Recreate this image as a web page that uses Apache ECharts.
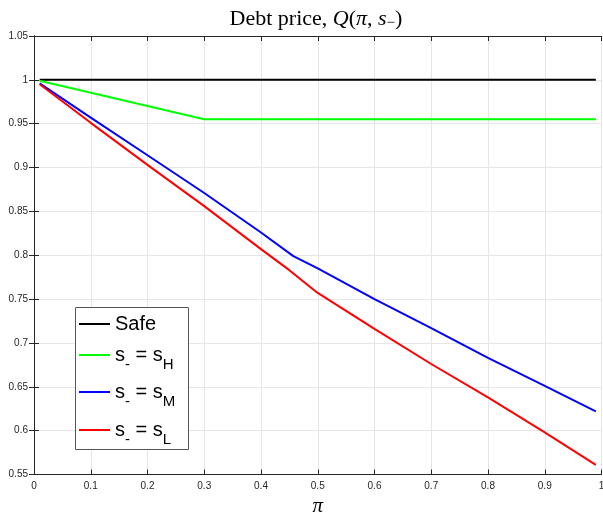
<!DOCTYPE html>
<html>
<head>
<meta charset="utf-8">
<script src="https://cdn.jsdelivr.net/npm/echarts@6/dist/echarts.min.js"></script>
<style>
  html, body { margin: 0; padding: 0; background: #fff; }
  #chart { width: 603px; height: 515px; }
</style>
</head>
<body>
<div id="chart"></div>
<script>
// values
const piSafe = [0.01, 0.99];
const qSafe = [1, 1];

const piHigh = [0.01, 0.3, 0.99];
const qHigh = [0.999, 0.955, 0.955];

const piMid = [0.01, 0.1, 0.2, 0.3, 0.4, 0.457, 0.5, 0.6, 0.7, 0.8, 0.9, 0.99];
const qMid = [0.996, 0.957, 0.914, 0.871, 0.826, 0.799, 0.785, 0.750, 0.717, 0.683, 0.651, 0.622];

const piLow = [0.01, 0.1, 0.2, 0.3, 0.4, 0.45, 0.49, 0.5, 0.6, 0.7, 0.8, 0.9, 0.99];
const qLow = [0.995, 0.951, 0.903, 0.856, 0.807, 0.783, 0.762, 0.757, 0.716, 0.676, 0.638, 0.598, 0.561];

const xTicks = { min: 0, max: 1, interval: 0.1 };
const yTicks = { min: 0.55, max: 1.05, interval: 0.05 };

const names = ['Safe', 's_H', 's_M', 's_L'];
const colors = ['#000000', '#00ff00', '#0000ff', '#ff0000'];
const legendTops = [314, 345, 382, 420];

const pairs = (xs, ys) => xs.map((x, i) => [x, ys[i]]);
const seriesData = [
    pairs(piSafe, qSafe),
    pairs(piHigh, qHigh),
    pairs(piMid, qMid),
    pairs(piLow, qLow)
];

const axisColor = '#262626';
const sans = 'Liberation Sans, Arial, sans-serif';
const serif = 'Liberation Serif, DejaVu Serif, serif';

const legendRich = {
    m: { fontSize: 20, fontFamily: sans, color: '#000', lineHeight: 22, verticalAlign: 'middle' },
    sub: { fontSize: 15, fontFamily: sans, color: '#000', lineHeight: 15, verticalAlign: 'bottom' },
    pad: { fontSize: 1, lineHeight: 34, verticalAlign: 'middle' }
};

function legendLabel(name) {
    if (name === 'Safe') return '{pad|}{m|Safe}';
    const s = name.split('_')[1];
    return '{pad|}{m|s}{sub|-}{m| = s}{sub|' + s + '}';
}

const myChart = echarts.init(document.getElementById('chart'));

const option = {
    backgroundColor: '#fff',
    animation: false,
    grid: { left: 34, right: 1.5, top: 36, bottom: 40.5, outerBoundsMode: 'none' },
    graphic: [
        {
            type: 'text',
            x: 316,
            y: 19,
            z: 10,
            style: {
                text: '{n|Debt price, }{i|Q}{n|(}{i|π}{n|, }{i|s}{sub|−}{n|)}',
                align: 'center',
                verticalAlign: 'middle',
                rich: {
                    n: { fontSize: 22, fontFamily: serif, fill: '#000', lineHeight: 24, verticalAlign: 'middle' },
                    i: { fontSize: 22, fontFamily: serif, fontStyle: 'italic', fill: '#000', lineHeight: 24, verticalAlign: 'middle' },
                    sub: { fontSize: 15, fontFamily: serif, fill: '#000', lineHeight: 13, verticalAlign: 'bottom' }
                }
            }
        },
        {
            type: 'rect',
            z: 5,
            shape: { x: 75.5, y: 307.5, width: 113, height: 142 },
            style: { fill: '#fff', stroke: '#555', lineWidth: 1 }
        }
    ],
    legend: names.map((n, i) => ({
        data: [n],
        left: 79,
        top: legendTops[i],
        z: 10,
        padding: 0,
        icon: 'rect',
        itemWidth: 31,
        itemHeight: 2,
        formatter: legendLabel,
        textStyle: { rich: legendRich }
    })),
    xAxis: [
        {
            type: 'value',
            position: 'bottom',
            min: xTicks.min, max: xTicks.max, interval: xTicks.interval,
            name: 'π',
            nameLocation: 'middle',
            nameGap: 20,
            nameTextStyle: { fontFamily: serif, fontStyle: 'italic', fontSize: 21, color: '#000' },
            axisLine: { lineStyle: { color: axisColor, width: 1 } },
            axisTick: { inside: true, length: 5, lineStyle: { color: axisColor } },
            axisLabel: {
                margin: 7,
                fontFamily: sans, fontSize: 10, color: axisColor,
                formatter: v => String(+v.toFixed(1))
            },
            splitLine: { show: true, lineStyle: { color: '#e6e6e6', width: 1 } }
        },
        {
            type: 'value',
            position: 'top',
            min: xTicks.min, max: xTicks.max, interval: xTicks.interval,
            axisLine: { lineStyle: { color: axisColor, width: 1 } },
            axisTick: { inside: true, length: 5, lineStyle: { color: axisColor } },
            axisLabel: { show: false },
            splitLine: { show: false }
        }
    ],
    yAxis: [
        {
            type: 'value',
            position: 'left',
            min: yTicks.min, max: yTicks.max, interval: yTicks.interval,
            axisLine: { show: true, lineStyle: { color: axisColor, width: 1 } },
            axisTick: { show: true, inside: true, length: 5, lineStyle: { color: axisColor } },
            axisLabel: {
                margin: 6,
                fontFamily: sans, fontSize: 10, color: axisColor,
                formatter: v => String(+v.toFixed(2))
            },
            splitLine: { show: true, lineStyle: { color: '#e6e6e6', width: 1 } }
        },
        {
            type: 'value',
            position: 'right',
            min: yTicks.min, max: yTicks.max, interval: yTicks.interval,
            axisLine: { show: true, lineStyle: { color: axisColor, width: 1 } },
            axisTick: { show: true, inside: true, length: 5, lineStyle: { color: axisColor } },
            axisLabel: { show: false },
            splitLine: { show: false }
        }
    ],
    series: names.map((n, i) => ({
        name: n,
        type: 'line',
        data: seriesData[i],
        symbol: 'none',
        z: 2 + i,
        lineStyle: { color: colors[i], width: 2 },
        itemStyle: { color: colors[i] }
    }))
};

myChart.setOption(option);
</script>
</body>
</html>
